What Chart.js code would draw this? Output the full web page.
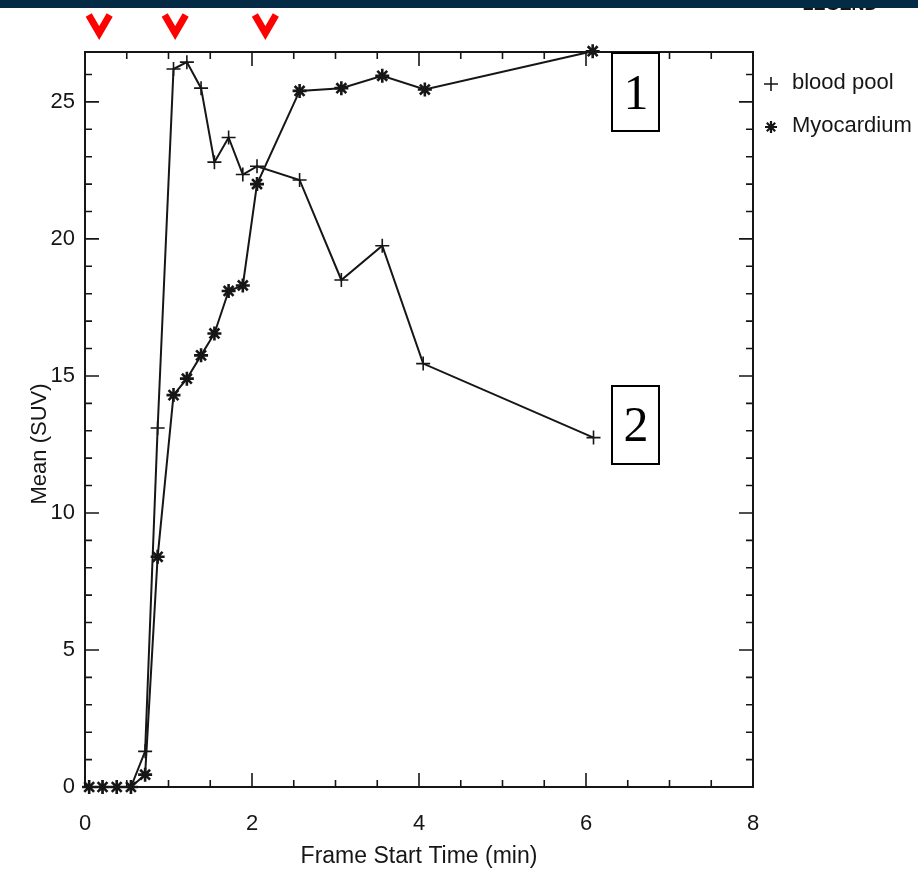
<!DOCTYPE html>
<html>
<head>
<meta charset="utf-8">
<script src="https://cdn.jsdelivr.net/npm/chart.js@4.4.0/dist/chart.umd.min.js"></script>
<style>
  html, body { margin: 0; padding: 0; background: #fff; }
  #wrap { position: relative; width: 918px; height: 871px; }
</style>
</head>
<body>
<div id="wrap"><canvas id="curve" width="918" height="871"></canvas></div>
<script>
// Time-activity curves
const bloodTime = [0.05, 0.21, 0.38, 0.55, 0.72, 0.87, 1.06, 1.22, 1.39, 1.55, 1.72, 1.89, 2.06, 2.57, 3.07, 3.56, 4.05, 6.09];
const bloodMean = [0, 0, 0, 0, 1.3, 13.1, 26.2, 26.45, 25.5, 22.8, 23.7, 22.35, 22.65, 22.15, 18.5, 19.75, 15.45, 12.75];

const myoTime = [0.05, 0.21, 0.38, 0.55, 0.72, 0.87, 1.06, 1.22, 1.39, 1.55, 1.72, 1.89, 2.06, 2.57, 3.07, 3.56, 4.07, 6.08];
const myoMean = [0, 0, 0, 0, 0.45, 8.4, 14.3, 14.9, 15.75, 16.55, 18.1, 18.3, 22.0, 25.4, 25.5, 25.95, 25.45, 26.85];

const xTickLabels = [0, 2, 4, 6, 8];
const yTickLabels = [0, 5, 10, 15, 20, 25];
const seriesNames = ['blood pool', 'Myocardium'];
const arrowTimes = [0.17, 1.08, 2.16];
const calloutLabels = ['1', '2'];

const toPoints = (xs, ys) => xs.map((t, i) => ({ x: t, y: ys[i] }));
const ink = '#161616';
const sans = 'Liberation Sans';

const decorations = {
  id: 'decorations',
  afterDraw(chart) {
    const { ctx, chartArea: a, scales: { x, y } } = chart;
    ctx.save();

    // frame + inward ticks on all four sides
    ctx.strokeStyle = ink;
    ctx.lineWidth = 2;
    ctx.strokeRect(a.left, a.top, a.right - a.left, a.bottom - a.top);
    ctx.lineWidth = 1.6;
    ctx.beginPath();
    for (let v = 0; v <= 8; v += 0.5) {
      const px = x.getPixelForValue(v);
      const len = v % 2 === 0 ? 14 : 7;
      ctx.moveTo(px, a.bottom); ctx.lineTo(px, a.bottom - len);
      ctx.moveTo(px, a.top); ctx.lineTo(px, a.top + len);
    }
    for (let v = 0; v <= 26; v += 1) {
      const py = y.getPixelForValue(v);
      const len = v % 5 === 0 ? 14 : 7;
      ctx.moveTo(a.left, py); ctx.lineTo(a.left + len, py);
      ctx.moveTo(a.right, py); ctx.lineTo(a.right - len, py);
    }
    ctx.stroke();

    // y axis title
    ctx.fillStyle = ink;
    ctx.font = `22px "${sans}"`;
    ctx.textAlign = 'center';
    ctx.textBaseline = 'middle';
    ctx.save();
    ctx.translate(40, 444);
    ctx.rotate(-Math.PI / 2);
    ctx.fillText('Mean (SUV)', 0, 0);
    ctx.restore();

    // legend
    ctx.textAlign = 'left';
    ctx.fillText(seriesNames[0], 792, 83);
    ctx.fillText(seriesNames[1], 792, 126);
    ctx.lineWidth = 1.6;
    ctx.beginPath();
    ctx.moveTo(764, 84); ctx.lineTo(778, 84);
    ctx.moveTo(771, 77); ctx.lineTo(771, 91);
    ctx.stroke();
    ctx.lineWidth = 2.2;
    ctx.beginPath();
    const r = 6;
    ctx.moveTo(771, 127 - r); ctx.lineTo(771, 127 + r);
    ctx.moveTo(771 - r, 127); ctx.lineTo(771 + r, 127);
    ctx.moveTo(771 - r * 0.7, 127 - r * 0.7); ctx.lineTo(771 + r * 0.7, 127 + r * 0.7);
    ctx.moveTo(771 - r * 0.7, 127 + r * 0.7); ctx.lineTo(771 + r * 0.7, 127 - r * 0.7);
    ctx.stroke();

    // numbered callout boxes
    ctx.font = '50px "Liberation Serif"';
    ctx.textAlign = 'center';
    [[612, 53, 94], [612, 386, 426]].forEach(([bx, by, ty], i) => {
      ctx.fillStyle = '#fff';
      ctx.fillRect(bx, by, 47, 78);
      ctx.strokeStyle = '#000';
      ctx.lineWidth = 2;
      ctx.strokeRect(bx, by, 47, 78);
      ctx.fillStyle = '#000';
      ctx.fillText(calloutLabels[i], bx + 24, ty + 2);
    });

    // red arrowheads marking the injections
    ctx.strokeStyle = '#ff0000';
    ctx.lineWidth = 7;
    ctx.lineJoin = 'miter';
    arrowTimes.forEach((t) => {
      const cx = x.getPixelForValue(t);
      ctx.beginPath();
      ctx.moveTo(cx - 10.5, 15);
      ctx.lineTo(cx, 33);
      ctx.lineTo(cx + 10.5, 15);
      ctx.stroke();
    });

    // clipped "LEGEND" header and dark band
    ctx.fillStyle = ink;
    ctx.font = `bold 18px "${sans}"`;
    ctx.textBaseline = 'bottom';
    ctx.fillText('LEGEND', 840, 14);
    ctx.fillStyle = '#032b45';
    ctx.fillRect(0, 0, 918, 8);

    ctx.restore();
  },
};

new Chart(document.getElementById('curve'), {
  type: 'scatter',
  data: {
    datasets: [
      {
        label: seriesNames[0],
        data: toPoints(bloodTime, bloodMean),
        showLine: true,
        borderColor: ink,
        backgroundColor: ink,
        borderWidth: 2,
        pointStyle: 'cross',
        pointRadius: 7,
        pointBorderWidth: 1.6,
        clip: false,
      },
      {
        label: seriesNames[1],
        data: toPoints(myoTime, myoMean),
        showLine: true,
        borderColor: ink,
        backgroundColor: ink,
        borderWidth: 2,
        pointStyle: 'star',
        pointRadius: 7,
        pointBorderWidth: 2.6,
        clip: false,
      },
    ],
  },
  options: {
    responsive: false,
    animation: false,
    layout: { padding: { top: 52, right: 165, left: 0, bottom: 0 } },
    plugins: { legend: { display: false }, tooltip: { enabled: false } },
    scales: {
      x: {
        type: 'linear',
        min: 0,
        max: 8,
        afterBuildTicks: (s) => { s.ticks = xTickLabels.map((v) => ({ value: v })); },
        afterFit: (s) => { s.height = 84; },
        grid: { display: false, drawTicks: false },
        border: { display: false },
        ticks: { padding: 24, color: ink, maxRotation: 0, font: { family: sans, size: 22 } },
        title: {
          display: true,
          text: 'Frame Start Time (min)',
          color: ink,
          padding: { top: 0, bottom: 1 },
          font: { family: sans, size: 23 },
        },
      },
      y: {
        min: 0,
        max: 26.82,
        afterBuildTicks: (s) => { s.ticks = yTickLabels.map((v) => ({ value: v })); },
        afterFit: (s) => { s.width = 85; },
        grid: { display: false, drawTicks: false },
        border: { display: false },
        ticks: { padding: 10, color: ink, font: { family: sans, size: 22 } },
      },
    },
  },
  plugins: [decorations],
});
</script>
</body>
</html>
